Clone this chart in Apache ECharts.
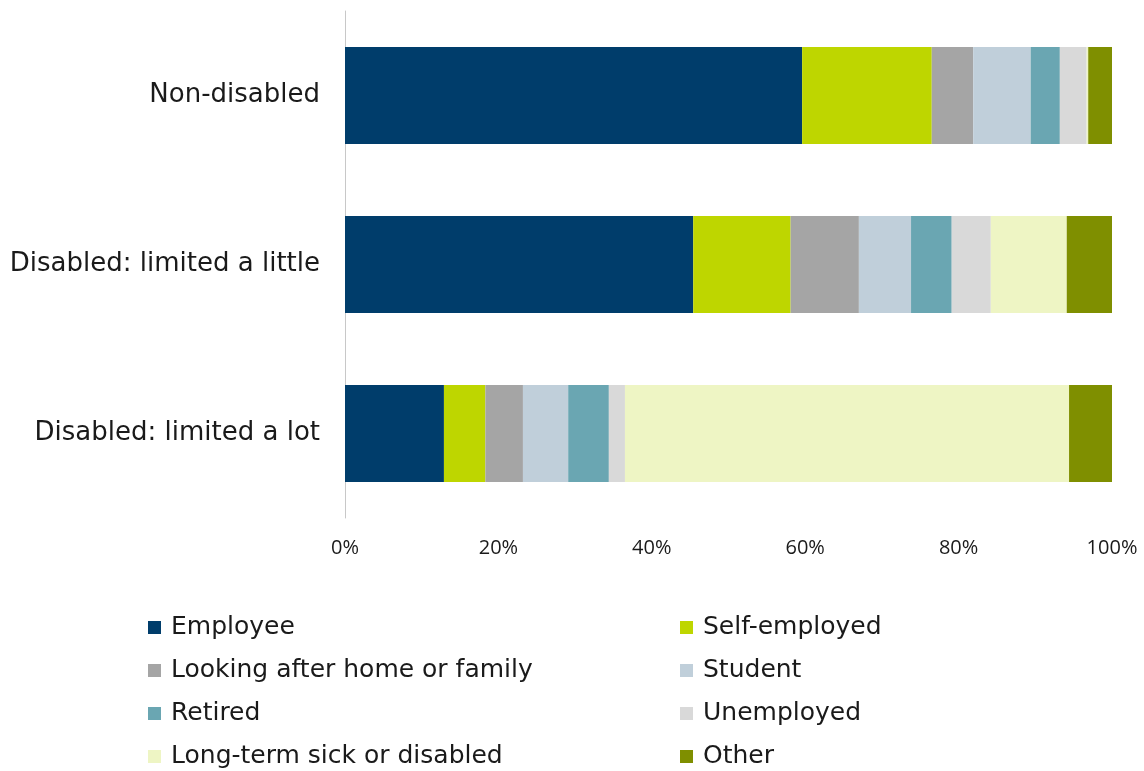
<!DOCTYPE html>
<html><head><meta charset="utf-8">
<script src="https://cdn.jsdelivr.net/npm/echarts@6/dist/echarts.min.js"></script>
<style>html,body{margin:0;padding:0;background:#fff}#c{width:1144px;height:771px}</style>
</head><body><div id="c"></div>
<script>
const categories = ["Non-disabled", "Disabled: limited a little", "Disabled: limited a lot"];
const seriesNames = ["Employee","Self-employed","Looking after home or family","Student","Retired","Unemployed","Long-term sick or disabled","Other"];
const employee      = [59.6, 45.4, 12.9];
const selfEmployed  = [16.9, 12.7, 5.4];
const lookingAfter  = [5.4, 8.9, 4.9];
const student       = [7.5, 6.8, 5.9];
const retired       = [3.8, 5.3, 5.3];
const unemployed    = [3.5, 5.1, 2.1];
const longTermSick  = [0.2, 9.9, 57.9];
const other         = [3.1, 5.9, 5.6];
const xTicks = [0, 20, 40, 60, 80, 100];

const values = [employee, selfEmployed, lookingAfter, student, retired, unemployed, longTermSick, other];
const colors = ["#003D6B","#BED600","#A5A5A5","#C0CFDA","#6AA6B2","#D9D9D9","#EEF5C4","#7F8F00"];
const font = "'DejaVu Sans', sans-serif";
const tickFont = "'Open Sans', sans-serif";

const chart = echarts.init(document.getElementById('c'), null, {renderer:'canvas'});
const legendBase = {
  orient: 'vertical', itemWidth: 13, itemHeight: 13, itemGap: 18, icon: 'rect', height: 200,
  padding: 0,
  textStyle: {fontFamily: font, fontSize: 25, lineHeight: 25, color: '#1a1a1a', padding: [0,0,0,5]},
  selectedMode: false
};
chart.setOption({
  animation: false,
  textStyle: {fontFamily: font},
  grid: {left: 345, right: 32, top: 11, bottom: 253},
  legend: [
    Object.assign({}, legendBase, {left: 148, top: 615, data: [seriesNames[0], seriesNames[2], seriesNames[4], seriesNames[6]]}),
    Object.assign({}, legendBase, {left: 680, top: 615, data: [seriesNames[1], seriesNames[3], seriesNames[5], seriesNames[7]]})
  ],
  xAxis: {
    type: 'value', min: 0, max: 100, interval: 20,
    axisLine: {show: false}, axisTick: {show: false}, splitLine: {show: false},
    axisLabel: {formatter: v => xTicks.includes(v) ? v + '%' : '', fontSize: 20, color: '#1a1a1a', fontFamily: tickFont, margin: 20}
  },
  yAxis: {
    type: 'category', data: categories, inverse: true,
    axisLine: {show: true, lineStyle: {color: '#C8C8C8', width: 1}}, axisTick: {show: false},
    axisLabel: {fontSize: 26, color: '#1a1a1a', fontFamily: font, margin: 25, padding: [6, 0, 0, 0]}
  },
  series: seriesNames.map((n, i) => ({
    name: n, type: 'bar', stack: 'total', data: values[i], barWidth: 97,
    itemStyle: {color: colors[i]}
  }))
});
</script></body></html>
